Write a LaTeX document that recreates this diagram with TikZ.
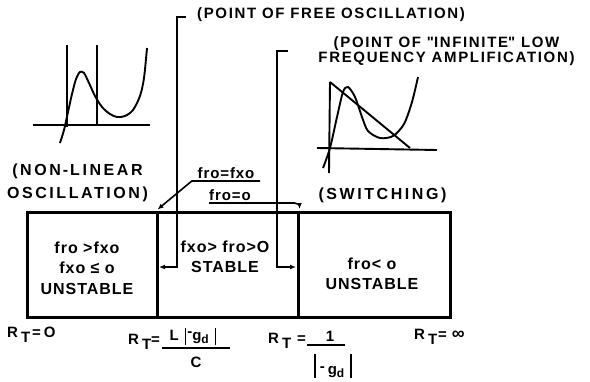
\documentclass[tikz,border=0pt]{standalone}
\usepackage{fontspec}
\setmainfont{Liberation Sans}
\usetikzlibrary{arrows.meta}
\newcommand\RT{R\kern3pt\raisebox{-5pt}{T}}
\newcommand\tallbar[1]{\rule[-4pt]{1.5pt}{#1}}
\newcommand\subd{\raisebox{-3pt}{\fontsize{12}{12}\selectfont d}}
\tikzset{
  caption/.style={font=\bfseries\fontsize{15}{15}\selectfont\addfontfeatures{LetterSpace=11}, inner sep=0pt, align=center},
  widecaption/.style={caption, font=\bfseries\fontsize{16}{16}\selectfont\addfontfeatures{LetterSpace=16}},
  eqtext/.style={font=\bfseries\fontsize{15}{15}\selectfont\addfontfeatures{LetterSpace=6}, inner xsep=0pt, inner ysep=2pt},
  boxtext/.style={font=\bfseries\fontsize{16}{20.5}\selectfont\addfontfeatures{LetterSpace=6}, align=center},
  rtext/.style={font=\bfseries\fontsize{15}{17}\selectfont\addfontfeatures{LetterSpace=4}, inner sep=0pt},
  region/.style={draw, line width=3pt, minimum height=105pt, inner sep=0pt},
  leader/.style={line width=1.6pt},
  pointer/.style={leader, -{Latex[length=6pt,width=5pt]}},
  curve/.style={line width=1.9pt, line join=round}
}
\begin{document}
\begin{tikzpicture}[x=1pt, y=-1pt]
\useasboundingbox (0,0) rectangle (590,381);

\node[region, minimum width=130pt] (nonlin) at (92,264.5) {};
\node[region, minimum width=141pt] (stable) at (227.5,264.5) {};
\node[region, minimum width=152pt] (swbox) at (374,264.5) {};

\node[boxtext] (nonlintxt) at (87,268) {f\kern1pt r\kern1pt o >f\kern1pt x\kern1pt o\\fxo ≤ o\\UNSTABLE};
\node[boxtext] (stabletxt) at (225,257) {fxo> fro>O\\STABLE};
\node[boxtext] (swtxt) at (372,274) {fro< o\\UNSTABLE};

\node[widecaption] (nonlbl) at (77.5,182.5) {(NON\kern2pt-\kern2pt LINEAR\\[7pt]OSCILLATION)};
\node[widecaption] (swlbl) at (382.5,195) {(SWITCHING)};
\node[caption, anchor=west] (freelbl) at (197,14.5) {(POINT OF FREE OSCILLATION)};
\node[caption] (inflbl) at (446.5,51.5) {(POINT OF \textquotedbl INFINITE\textquotedbl\ LOW\\FREQUENCY AMPLIFICATION)};

\node[eqtext, anchor=south, minimum width=68pt] (fxolbl) at (226,181) {fro=fxo};
\node[eqtext, anchor=south] (zerolbl) at (230,203) {fro=o};

\coordinate (freetop) at (186,17);
\coordinate (freept) at (159,267);
\coordinate (inftop) at (288,51);
\coordinate (infpt) at (296,267);

\begin{scope}[pointer]
\draw (freetop) -- ++(-9,0) |- (freept);
\draw (inftop) -- ++(-11,0) |- (infpt);
\draw (fxolbl.south east) -- (fxolbl.south west) -- ([shift={(2,-1)}]stable.north west);
\draw (zerolbl.south west) -- ([xshift=-5pt]zerolbl.south west -| stable.north east) to[out=0,in=90] ([yshift=1.5pt]stable.north east);
\end{scope}

\node[rtext, anchor=west] (rt0) at (7,335) {\RT\kern2pt=\kern3pt O};
\node[rtext, anchor=west] (rtinf) at (414,337) {\RT\kern1pt=\kern5pt{\fontsize{18}{18}\selectfont ∞}};

\node[rtext, anchor=west] (rtlc) at (128,342) {\RT=};
\node[rtext] (lcnum) at (193,336) {L\hspace{6pt}\tallbar{17pt}\kern1pt\raisebox{4pt}{-}g\subd\hspace{6pt}\tallbar{17pt}};
\node[rtext] (lcden) at (196,362) {C};
\draw[line width=1.4pt] (lcden |- 0,348) ++(-34,0) -- ++(68,0);

\node[rtext, anchor=west] (rtg) at (268,341) {\RT\kern6pt=};
\node[rtext] (gnum) at (330,336) {1};
\node[rtext] (gden) at (333,366) {\tallbar{24pt}\kern4pt\raisebox{3pt}{-}\kern3pt g\subd\kern6pt\tallbar{24pt}};
\draw[line width=1.4pt] (gnum |- 0,345) ++(-23,0) -- ++(38,0);

\begin{scope}[curve]
\draw (33,125) -- (150,125);
\draw (67,45) -- (67,127);
\draw (97,45) -- (97,125);
\draw plot[smooth] coordinates {(60,143) (64,130) (68,112) (72,94) (76,79) (80,72) (84,73) (89,83) (95,96) (102,107) (110,114) (117,117) (125,116) (133,110) (140,96) (144,78) (147,48)};
\draw (317,148) -- (437,150);
\draw (330,82) -- (329,173);
\draw (330,82) -- (410,148);
\draw plot[smooth] coordinates {(323,168) (330,148) (337,117) (343,92) (348,87) (355,97) (362,117) (368,131) (380,138) (393,136) (404,124) (412,102) (418,77)};
\end{scope}

\end{tikzpicture}
\end{document}
